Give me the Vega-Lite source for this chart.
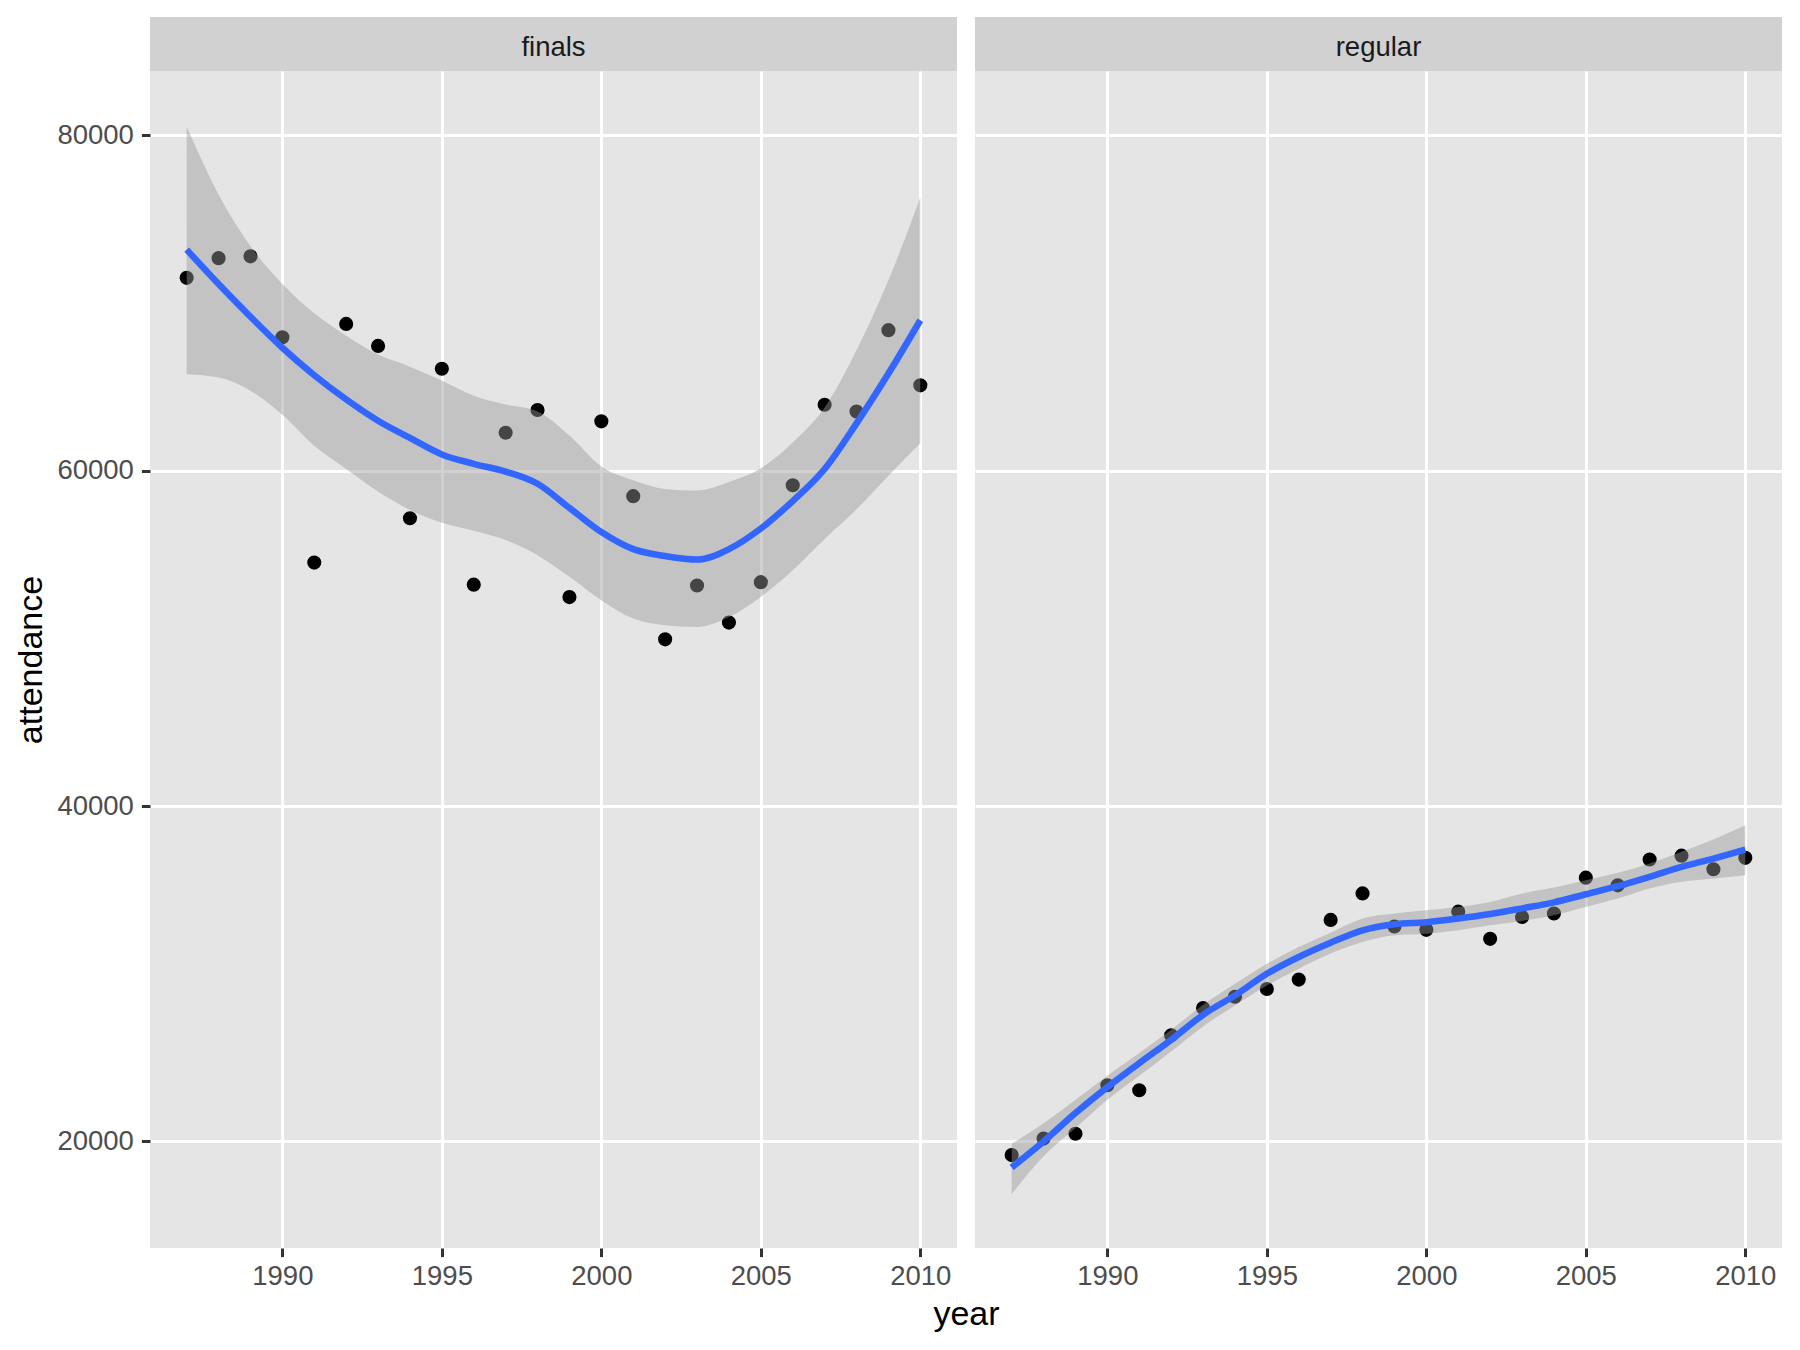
{
  "$schema": "https://vega.github.io/schema/vega-lite/v6.json",
  "padding": {"left": 14, "top": 17, "right": 17, "bottom": 10},
  "background": "#FFFFFF",
  "bounds": "flush",
  "columns": 2,
  "spacing": {"row": 0, "column": 18},
  "datasets": {
    "points": [
      {"type": "finals", "year": 1987, "attendance": 71500},
      {"type": "finals", "year": 1988, "attendance": 72670},
      {"type": "finals", "year": 1989, "attendance": 72780},
      {"type": "finals", "year": 1990, "attendance": 67950},
      {"type": "finals", "year": 1991, "attendance": 54520},
      {"type": "finals", "year": 1992, "attendance": 68750},
      {"type": "finals", "year": 1993, "attendance": 67440},
      {"type": "finals", "year": 1994, "attendance": 57160},
      {"type": "finals", "year": 1995, "attendance": 66080},
      {"type": "finals", "year": 1996, "attendance": 53200},
      {"type": "finals", "year": 1997, "attendance": 62260},
      {"type": "finals", "year": 1998, "attendance": 63620},
      {"type": "finals", "year": 1999, "attendance": 52460},
      {"type": "finals", "year": 2000, "attendance": 62940},
      {"type": "finals", "year": 2001, "attendance": 58480},
      {"type": "finals", "year": 2002, "attendance": 49940},
      {"type": "finals", "year": 2003, "attendance": 53150},
      {"type": "finals", "year": 2004, "attendance": 50940},
      {"type": "finals", "year": 2005, "attendance": 53350},
      {"type": "finals", "year": 2006, "attendance": 59130},
      {"type": "finals", "year": 2007, "attendance": 63930},
      {"type": "finals", "year": 2008, "attendance": 63530},
      {"type": "finals", "year": 2009, "attendance": 68380},
      {"type": "finals", "year": 2010, "attendance": 65090},
      {"type": "regular", "year": 1987, "attendance": 19185},
      {"type": "regular", "year": 1988, "attendance": 20170},
      {"type": "regular", "year": 1989, "attendance": 20460},
      {"type": "regular", "year": 1990, "attendance": 23350},
      {"type": "regular", "year": 1991, "attendance": 23050},
      {"type": "regular", "year": 1992, "attendance": 26330},
      {"type": "regular", "year": 1993, "attendance": 27950},
      {"type": "regular", "year": 1994, "attendance": 28630},
      {"type": "regular", "year": 1995, "attendance": 29090},
      {"type": "regular", "year": 1996, "attendance": 29650},
      {"type": "regular", "year": 1997, "attendance": 33210},
      {"type": "regular", "year": 1998, "attendance": 34790},
      {"type": "regular", "year": 1999, "attendance": 32820},
      {"type": "regular", "year": 2000, "attendance": 32620},
      {"type": "regular", "year": 2001, "attendance": 33700},
      {"type": "regular", "year": 2002, "attendance": 32080},
      {"type": "regular", "year": 2003, "attendance": 33390},
      {"type": "regular", "year": 2004, "attendance": 33590},
      {"type": "regular", "year": 2005, "attendance": 35730},
      {"type": "regular", "year": 2006, "attendance": 35270},
      {"type": "regular", "year": 2007, "attendance": 36810},
      {"type": "regular", "year": 2008, "attendance": 37040},
      {"type": "regular", "year": 2009, "attendance": 36230},
      {"type": "regular", "year": 2010, "attendance": 36910}
    ],
    "fit": [
      {"type": "finals", "year": 1987, "fit": 73180, "lower": 65750, "upper": 80530},
      {"type": "finals", "year": 1988, "fit": 71130, "lower": 65550, "upper": 76470},
      {"type": "finals", "year": 1989, "fit": 69180, "lower": 64770, "upper": 73390},
      {"type": "finals", "year": 1990, "fit": 67330, "lower": 63330, "upper": 71130},
      {"type": "finals", "year": 1991, "fit": 65690, "lower": 61480, "upper": 69380},
      {"type": "finals", "year": 1992, "fit": 64250, "lower": 60100, "upper": 68050},
      {"type": "finals", "year": 1993, "fit": 62980, "lower": 58750, "upper": 66920},
      {"type": "finals", "year": 1994, "fit": 61950, "lower": 57650, "upper": 66200},
      {"type": "finals", "year": 1995, "fit": 60970, "lower": 56890, "upper": 65380},
      {"type": "finals", "year": 1996, "fit": 60410, "lower": 56410, "upper": 64460},
      {"type": "finals", "year": 1997, "fit": 59940, "lower": 55860, "upper": 63940},
      {"type": "finals", "year": 1998, "fit": 59220, "lower": 54960, "upper": 63530},
      {"type": "finals", "year": 1999, "fit": 57780, "lower": 53670, "upper": 62090},
      {"type": "finals", "year": 2000, "fit": 56340, "lower": 52270, "upper": 60250},
      {"type": "finals", "year": 2001, "fit": 55320, "lower": 51180, "upper": 59430},
      {"type": "finals", "year": 2002, "fit": 54910, "lower": 50780, "upper": 58910},
      {"type": "finals", "year": 2003, "fit": 54700, "lower": 50680, "upper": 58810},
      {"type": "finals", "year": 2004, "fit": 55320, "lower": 51270, "upper": 59320},
      {"type": "finals", "year": 2005, "fit": 56550, "lower": 52470, "upper": 60140},
      {"type": "finals", "year": 2006, "fit": 58190, "lower": 54060, "upper": 61680},
      {"type": "finals", "year": 2007, "fit": 60100, "lower": 55930, "upper": 63770},
      {"type": "finals", "year": 2008, "fit": 62820, "lower": 57700, "upper": 67180},
      {"type": "finals", "year": 2009, "fit": 65790, "lower": 59700, "upper": 71350},
      {"type": "finals", "year": 2010, "fit": 68970, "lower": 61630, "upper": 76310},
      {"type": "regular", "year": 1987, "fit": 18450, "lower": 16860, "upper": 19860},
      {"type": "regular", "year": 1988, "fit": 20000, "lower": 19110, "upper": 21090},
      {"type": "regular", "year": 1989, "fit": 21690, "lower": 20800, "upper": 22490},
      {"type": "regular", "year": 1990, "fit": 23240, "lower": 22490, "upper": 23920},
      {"type": "regular", "year": 1991, "fit": 24670, "lower": 23920, "upper": 25270},
      {"type": "regular", "year": 1992, "fit": 26060, "lower": 25370, "upper": 26660},
      {"type": "regular", "year": 1993, "fit": 27550, "lower": 26860, "upper": 28150},
      {"type": "regular", "year": 1994, "fit": 28710, "lower": 28110, "upper": 29400},
      {"type": "regular", "year": 1995, "fit": 30000, "lower": 29300, "upper": 30600},
      {"type": "regular", "year": 1996, "fit": 31000, "lower": 30300, "upper": 31590},
      {"type": "regular", "year": 1997, "fit": 31850, "lower": 31200, "upper": 32450},
      {"type": "regular", "year": 1998, "fit": 32590, "lower": 31890, "upper": 33290},
      {"type": "regular", "year": 1999, "fit": 32950, "lower": 32290, "upper": 33590},
      {"type": "regular", "year": 2000, "fit": 33070, "lower": 32390, "upper": 33780},
      {"type": "regular", "year": 2001, "fit": 33290, "lower": 32590, "upper": 33980},
      {"type": "regular", "year": 2002, "fit": 33560, "lower": 32890, "upper": 34280},
      {"type": "regular", "year": 2003, "fit": 33900, "lower": 33150, "upper": 34780},
      {"type": "regular", "year": 2004, "fit": 34260, "lower": 33490, "upper": 35140},
      {"type": "regular", "year": 2005, "fit": 34740, "lower": 33980, "upper": 35580},
      {"type": "regular", "year": 2006, "fit": 35220, "lower": 34480, "upper": 36020},
      {"type": "regular", "year": 2007, "fit": 35780, "lower": 35080, "upper": 36570},
      {"type": "regular", "year": 2008, "fit": 36370, "lower": 35480, "upper": 37270},
      {"type": "regular", "year": 2009, "fit": 36870, "lower": 35680, "upper": 38010},
      {"type": "regular", "year": 2010, "fit": 37410, "lower": 35880, "upper": 38860}
    ]
  },
  "concat": [
    {
      "width": 807, "height": 54,
      "view": {"fill": "#D1D1D1", "stroke": null},
      "data": {"values": [{"type": "finals"}]},
      "mark": {"type": "text", "fontSize": 27.5, "color": "#1A1A1A", "font": "Liberation Sans", "baseline": "middle", "align": "center", "dy": 3.5},
      "encoding": {"text": {"field": "type"}}
    },
    {
      "width": 807, "height": 54,
      "view": {"fill": "#D1D1D1", "stroke": null},
      "data": {"values": [{"type": "regular"}]},
      "mark": {"type": "text", "fontSize": 27.5, "color": "#1A1A1A", "font": "Liberation Sans", "baseline": "middle", "align": "center", "dy": 3.5},
      "encoding": {"text": {"field": "type"}}
    },
    {
      "width": 807, "height": 1177,
      "view": {"fill": "#E5E5E5", "stroke": null},
      "layer": [
        {
          "data": {"name": "points"},
          "transform": [{"filter": "datum.type === 'finals'"}],
          "mark": {"type": "circle", "size": 200, "color": "#000000", "opacity": 1},
          "encoding": {
            "x": {"field": "year", "type": "quantitative", "scale": {"domain": [1985.85, 2011.15], "nice": false, "zero": false},
                  "axis": {"orient": "bottom", "values": [1990, 1995, 2000, 2005, 2010], "format": "d", "title": "year", "titleX": 816}},
            "y": {"field": "attendance", "type": "quantitative", "scale": {"domain": [13645, 83833], "nice": false, "zero": false},
                  "axis": {"orient": "left", "values": [20000, 40000, 60000, 80000], "format": "d", "title": "attendance"}}
          }
        },
        {
          "data": {"name": "fit"},
          "transform": [{"filter": "datum.type === 'finals'"}],
          "mark": {"type": "area", "color": "#999999", "opacity": 0.45, "interpolate": "monotone"},
          "encoding": {
            "x": {"field": "year", "type": "quantitative", "scale": {"domain": [1985.85, 2011.15], "nice": false, "zero": false},
                  "axis": {"orient": "bottom", "values": [1987.5, 1992.5, 1997.5, 2002.5, 2007.5], "labels": false, "ticks": false, "gridWidth": 1.5, "title": null}},
            "y": {"field": "upper", "type": "quantitative", "scale": {"domain": [13645, 83833], "nice": false, "zero": false},
                  "axis": {"orient": "left", "values": [30000, 50000, 70000], "labels": false, "ticks": false, "gridWidth": 1.5, "title": null}},
            "y2": {"field": "lower"}
          }
        },
        {
          "data": {"name": "fit"},
          "transform": [{"filter": "datum.type === 'finals'"}],
          "mark": {"type": "line", "color": "#3366FF", "strokeWidth": 6.5, "interpolate": "monotone"},
          "encoding": {
            "x": {"field": "year", "type": "quantitative", "scale": {"domain": [1985.85, 2011.15], "nice": false, "zero": false}, "axis": null},
            "y": {"field": "fit", "type": "quantitative", "scale": {"domain": [13645, 83833], "nice": false, "zero": false}, "axis": null}
          }
        }
      ],
      "resolve": {"axis": {"x": "independent", "y": "independent"}}
    },
    {
      "width": 807, "height": 1177,
      "view": {"fill": "#E5E5E5", "stroke": null},
      "layer": [
        {
          "data": {"name": "points"},
          "transform": [{"filter": "datum.type === 'regular'"}],
          "mark": {"type": "circle", "size": 200, "color": "#000000", "opacity": 1},
          "encoding": {
            "x": {"field": "year", "type": "quantitative", "scale": {"domain": [1985.85, 2011.15], "nice": false, "zero": false},
                  "axis": {"orient": "bottom", "values": [1990, 1995, 2000, 2005, 2010], "format": "d", "title": null}},
            "y": {"field": "attendance", "type": "quantitative", "scale": {"domain": [13645, 83833], "nice": false, "zero": false},
                  "axis": {"orient": "left", "values": [20000, 40000, 60000, 80000], "labels": false, "ticks": false, "title": null}}
          }
        },
        {
          "data": {"name": "fit"},
          "transform": [{"filter": "datum.type === 'regular'"}],
          "mark": {"type": "area", "color": "#999999", "opacity": 0.45, "interpolate": "monotone"},
          "encoding": {
            "x": {"field": "year", "type": "quantitative", "scale": {"domain": [1985.85, 2011.15], "nice": false, "zero": false},
                  "axis": {"orient": "bottom", "values": [1987.5, 1992.5, 1997.5, 2002.5, 2007.5], "labels": false, "ticks": false, "gridWidth": 1.5, "title": null}},
            "y": {"field": "upper", "type": "quantitative", "scale": {"domain": [13645, 83833], "nice": false, "zero": false},
                  "axis": {"orient": "left", "values": [30000, 50000, 70000], "labels": false, "ticks": false, "gridWidth": 1.5, "title": null}},
            "y2": {"field": "lower"}
          }
        },
        {
          "data": {"name": "fit"},
          "transform": [{"filter": "datum.type === 'regular'"}],
          "mark": {"type": "line", "color": "#3366FF", "strokeWidth": 6.5, "interpolate": "monotone"},
          "encoding": {
            "x": {"field": "year", "type": "quantitative", "scale": {"domain": [1985.85, 2011.15], "nice": false, "zero": false}, "axis": null},
            "y": {"field": "fit", "type": "quantitative", "scale": {"domain": [13645, 83833], "nice": false, "zero": false}, "axis": null}
          }
        }
      ],
      "resolve": {"axis": {"x": "independent", "y": "independent"}}
    }
  ],
  "config": {
    "font": "Liberation Sans",
    "view": {"stroke": null},
    "axis": {
      "domain": false,
      "grid": true,
      "gridColor": "#FFFFFF",
      "gridWidth": 3,
      "gridOpacity": 1,
      "tickColor": "#333333",
      "tickSize": 8.6,
      "tickWidth": 3,
      "labelFont": "Liberation Sans",
      "labelFontSize": 27.5,
      "labelColor": "#4D4D4D",
      "labelFlush": false,
      "labelOverlap": false,
      "titleFont": "Liberation Sans",
      "titleFontSize": 34,
      "titleFontWeight": "normal",
      "titleColor": "#000000",
      "minExtent": 0
    },
    "axisX": {"labelPadding": 5.5, "titlePadding": 7.5},
    "axisY": {"labelPadding": 8, "titlePadding": 8}
  }
}
